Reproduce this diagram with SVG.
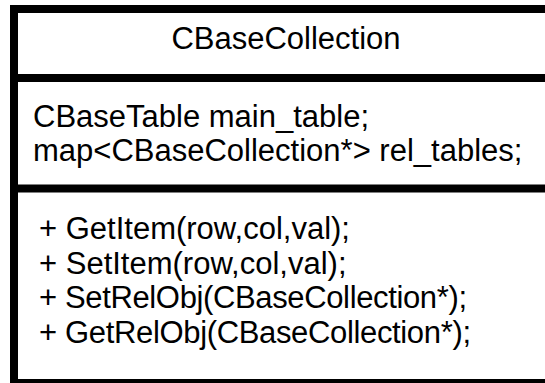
<svg xmlns="http://www.w3.org/2000/svg" width="545" height="383" viewBox="0 0 545 383">
  <style>
    .box { fill: #ffffff; stroke: #000000; stroke-width: 8; }
    .div { stroke: #000000; stroke-width: 8; fill: none; }
    text { font-family: "Liberation Sans", Arial, sans-serif; font-size: 31px; fill: #000000; }
  </style>
  <rect width="545" height="383" fill="#ffffff"/>
  <g id="CBaseCollection">
    <rect class="box" x="14" y="9" width="600" height="374"/>
    <line class="div" x1="10" y1="78" x2="545" y2="78"/>
    <line class="div" x1="10" y1="188.5" x2="545" y2="188.5"/>
    <text x="286" y="49" text-anchor="middle">CBaseCollection</text>
    <text x="33" y="127">CBaseTable main_table;</text>
    <text x="33" y="160.5">map&lt;CBaseCollection*&gt; rel_tables;</text>
    <text x="39" y="239">+ GetItem(row,col,val);</text>
    <text x="39" y="273.5">+ SetItem(row,col,val);</text>
    <text x="39" y="308" textLength="428" lengthAdjust="spacing">+ SetRelObj(CBaseCollection*);</text>
    <text x="39" y="342.5" textLength="432" lengthAdjust="spacing">+ GetRelObj(CBaseCollection*);</text>
  </g>
</svg>
